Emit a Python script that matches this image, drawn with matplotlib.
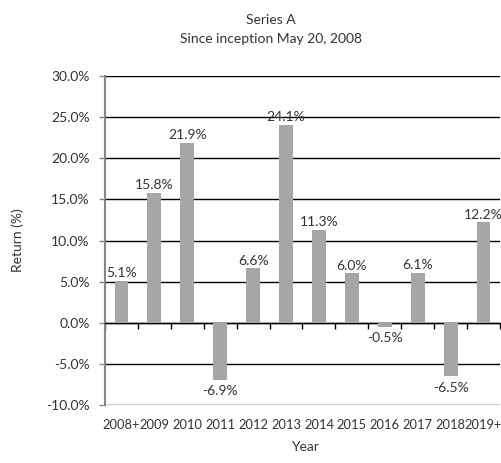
import matplotlib
matplotlib.use("Agg")
import matplotlib.pyplot as plt
from matplotlib.ticker import FuncFormatter, FixedLocator

years = ["2008+", "2009", "2010", "2011", "2012", "2013", "2014", "2015",
         "2016", "2017", "2018", "2019+"]
returns = [5.1, 15.8, 21.9, -6.9, 6.6, 24.1, 11.3, 6.0, -0.5, 6.1, -6.5, 12.2]
y_ticks = [-10, -5, 0, 5, 10, 15, 20, 25, 30]

plt.rcParams["font.family"] = ["Lato", "DejaVu Sans"]
txt = "#333333"
fs = 10

fig = plt.figure(figsize=(5.02, 4.63), dpi=100)
ax = fig.add_axes([105 / 502, 1 - 405 / 463, 395 / 502, 329 / 463])

x = list(range(len(years)))
ax.bar(x, returns, width=0.42, color="#a6a6a6", zorder=3)

for xi, v in zip(x, returns):
    if v >= 0:
        ax.annotate(f"{v:.1f}%", (xi, v), xytext=(0, 1), textcoords="offset points",
                    ha="center", va="bottom", fontsize=fs, color=txt, zorder=4)
    else:
        ax.annotate(f"{v:.1f}%", (xi, v), xytext=(0, -4), textcoords="offset points",
                    ha="center", va="top", fontsize=fs, color=txt, zorder=4)

ax.set_xlim(-0.5, len(years) - 0.5)
ax.set_ylim(-10, 30)
ax.set_yticks(y_ticks)
ax.yaxis.set_major_formatter(FuncFormatter(lambda v, p: f"{v:.1f}%"))
ax.yaxis.grid(True, color="black", linewidth=1.0, zorder=1)
ax.set_axisbelow(True)

for s in ["top", "right"]:
    ax.spines[s].set_visible(False)
ax.spines["left"].set_color("#868686")
ax.spines["left"].set_linewidth(1.5)
ax.spines["bottom"].set_position(("data", 0))
ax.spines["bottom"].set_color("black")
ax.spines["bottom"].set_linewidth(1.0)

ax.tick_params(axis="y", length=4, color="#868686", width=1, pad=7,
               labelsize=fs, labelcolor=txt)
# tick marks between categories on the zero line
ax.xaxis.set_major_locator(FixedLocator([i - 0.5 for i in range(len(years) + 1)]))
ax.tick_params(axis="x", length=4, width=1, color="black", labelbottom=False)

# category labels at the bottom of the plot
sec = ax.secondary_xaxis("bottom")
sec.set_xticks(x)
sec.set_xticklabels(years)
sec.tick_params(length=0, pad=10, labelsize=9.3, labelcolor=txt)
sec.spines["bottom"].set_visible(False)

fig.text(18 / 502, 1 - 240 / 463, "Return (%)", ha="center", va="center",
         rotation=90, fontsize=fs, color=txt)
fig.text(305 / 502, 1 - 447 / 463, "Year", ha="center", va="center",
         fontsize=fs, color=txt)

fig.text(271 / 502, 1 - 20 / 463, "Series A", ha="center", va="center",
         fontsize=fs, color=txt)
fig.text(271 / 502, 1 - 39 / 463, "Since inception May 20, 2008", ha="center",
         va="center", fontsize=fs, color=txt)

fig.savefig("out.png", dpi=100)
